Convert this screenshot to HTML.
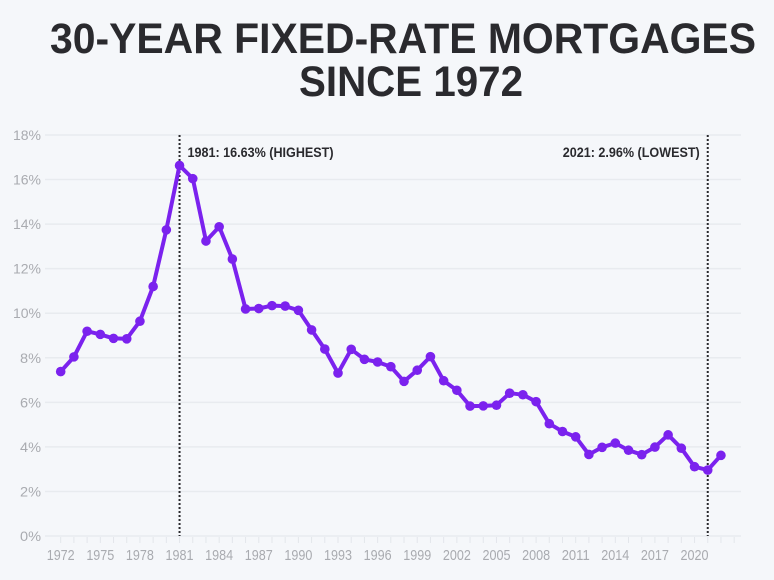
<!DOCTYPE html>
<html><head><meta charset="utf-8"><style>
html,body{margin:0;padding:0;background:#f5f7fa;}
svg{display:block;font-family:"Liberation Sans",sans-serif;}
</style></head><body>
<svg id="chart" width="774" height="580" viewBox="0 0 774 580">
<rect width="774" height="580" fill="#f5f7fa"/>
<text x="403" y="53" text-anchor="middle" font-size="43" font-weight="bold" fill="#2a2a2e" textLength="706" lengthAdjust="spacingAndGlyphs">30-YEAR FIXED-RATE MORTGAGES</text>
<text x="411" y="96" text-anchor="middle" font-size="43" font-weight="bold" fill="#2a2a2e" textLength="224" lengthAdjust="spacingAndGlyphs">SINCE 1972</text>
<g id="grid"></g><g id="axes"></g><g id="annot"></g><g id="series"></g>
</svg>
<script>
const years = [];
for (let y = 1972; y <= 2022; y++) years.push(y);
const rates = [7.38,8.04,9.19,9.05,8.87,8.85,9.64,11.20,13.74,16.63,16.04,13.24,13.88,12.43,10.19,10.21,10.34,10.32,10.13,9.25,8.39,7.31,8.38,7.93,7.81,7.60,6.94,7.44,8.05,6.97,6.54,5.83,5.84,5.87,6.41,6.34,6.03,5.04,4.69,4.45,3.66,3.98,4.17,3.85,3.65,3.99,4.54,3.94,3.11,2.96,3.62];
const yTicks = [0,2,4,6,8,10,12,14,16,18];
const xTickLabels = [1972,1975,1978,1981,1984,1987,1990,1993,1996,1999,2002,2005,2008,2011,2014,2017,2020];
const annotations = [{year:1981,label:"1981: 16.63% (HIGHEST)",side:"right"},{year:2021,label:"2021: 2.96% (LOWEST)",side:"left"}];

const NS="http://www.w3.org/2000/svg";
const x = yr => 60.7 + (yr-1972)*13.205;
const y = v => 536 - v*22.28;
function mk(tag, attrs, parent){const e=document.createElementNS(NS,tag);for(const k in attrs)e.setAttribute(k,attrs[k]);parent.appendChild(e);return e;}
const grid=document.getElementById('grid'),axes=document.getElementById('axes'),annot=document.getElementById('annot'),series=document.getElementById('series');

yTicks.forEach(t=>{
  const l=mk('line',{x1:45,x2:741,y1:y(t),y2:y(t),stroke:'#e8ebef','stroke-width':1.5},grid);
  
  
  const tx=mk('text',{x:41,y:y(t)+5,'text-anchor':'end','font-size':14,fill:'#a9abb0',textLength:t>=10?28:21,lengthAdjust:'spacingAndGlyphs'},axes);
  tx.textContent=t+'%';
  
  
});
years.concat([2023]).forEach(yr=>{
  const tk=mk('line',{x1:x(yr),x2:x(yr),y1:537,y2:543,stroke:'#e3e6eb','stroke-width':1},axes);
  
  
});
xTickLabels.forEach(yr=>{
  const tx=mk('text',{x:x(yr),y:560,'text-anchor':'middle','font-size':15,fill:'#a9abb0',textLength:28,lengthAdjust:'spacingAndGlyphs'},axes);
  tx.textContent=yr;
  
  
});
annotations.forEach(a=>{
  const ln=mk('line',{x1:x(a.year),x2:x(a.year),y1:135,y2:536,stroke:'#2a2a2e','stroke-width':2,'stroke-dasharray':'2,2'},annot);
  
  
  const tx=mk('text',{x:a.side==='right'?x(a.year)+8:x(a.year)-8,y:157,'text-anchor':a.side==='right'?'start':'end','font-size':14,'font-weight':'bold',fill:'#2a2a2e',textLength:a.side==='right'?146:137,lengthAdjust:'spacingAndGlyphs'},annot);
  tx.textContent=a.label;
  
  
});
const pts=years.map((yr,i)=>x(yr).toFixed(1)+','+y(rates[i]).toFixed(1)).join(' ');
const pl=mk('polyline',{points:pts,fill:'none',stroke:'#7b22ee','stroke-width':4,'stroke-linejoin':'round'},series);


years.forEach((yr,i)=>{
  const c=mk('circle',{cx:x(yr),cy:y(rates[i]),r:4.8,fill:'#7b22ee'},series);
  
  
});
</script>
</body></html>
